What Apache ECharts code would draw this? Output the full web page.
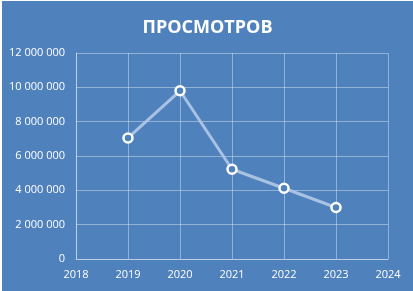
<!DOCTYPE html>
<html><head><meta charset="utf-8">
<script src="https://cdn.jsdelivr.net/npm/echarts@6/dist/echarts.min.js"></script>
<style>
html,body{margin:0;padding:0;background:#fff;}
#c{position:absolute;left:2px;top:1px;width:411px;height:290px;background:#4f81bd;}
</style></head><body>
<div id="c"></div>
<script>
const years = [2019, 2020, 2021, 2022, 2023];
const views = [7050000, 9800000, 5230000, 4120000, 3000000];
const title = 'ПРОСМОТРОВ';

const fmt = v => String(v).replace(/\B(?=(\d{3})+(?!\d))/g, ' ');
const gridColor = 'rgba(255,255,255,0.38)';
const chart = echarts.init(document.getElementById('c'));
chart.setOption({
  backgroundColor: '#4f81bd',
  animation: false,
  title: {
    text: title, left: 'center', top: 13,
    textStyle: {color: '#fff', fontSize: 18, fontWeight: 'bold', fontFamily: 'Open Sans'}
  },
  grid: {left: 74, right: 25, top: 52, bottom: 32},
  xAxis: {
    type: 'value', min: 2018, max: 2024, interval: 1,
    axisLine: {show: true, lineStyle: {color: gridColor}},
    axisTick: {show: false},
    splitLine: {show: true, lineStyle: {color: gridColor}},
    axisLabel: {color: '#fff', fontSize: 11, fontFamily: 'Open Sans', margin: 10, formatter: v => String(v)}
  },
  yAxis: {
    type: 'value', min: 0, max: 12000000, interval: 2000000,
    axisLine: {show: true, lineStyle: {color: gridColor}},
    axisTick: {show: false},
    splitLine: {show: true, lineStyle: {color: gridColor}},
    axisLabel: {color: '#fff', fontSize: 11, fontFamily: 'Open Sans', margin: 11, formatter: fmt}
  },
  series: [{
    type: 'line',
    data: years.map((y, i) => [y, views[i]]),
    symbol: 'circle', symbolSize: 9,
    lineStyle: {color: '#a9c2e2', width: 3},
    itemStyle: {color: '#4f81bd', borderColor: '#fff', borderWidth: 2.5}
  }]
});
</script></body></html>
